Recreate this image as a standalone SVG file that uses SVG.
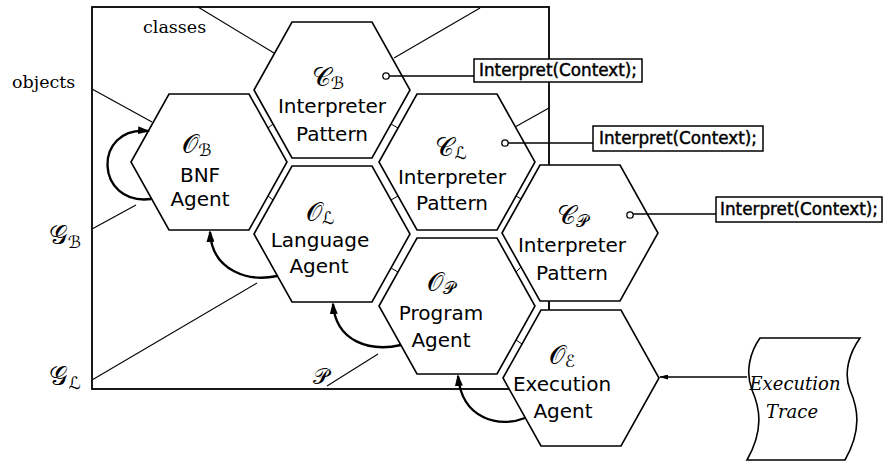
<svg xmlns="http://www.w3.org/2000/svg" width="886" height="470" viewBox="0 0 886 470">
  <style>
    .frame { fill: none; stroke: #000; stroke-width: 1.8; }
    .thin { fill: none; stroke: #000; stroke-width: 1.1; }
    .hex { fill: #fff; stroke: #000; stroke-width: 1.6; }
    .tick { stroke: #000; stroke-width: 1; }
    .arc { fill: none; stroke: #000; stroke-width: 2.4; marker-end: url(#head); }
    .lbl { font-family: "DejaVu Sans", sans-serif; font-size: 20px; text-anchor: middle; fill: #000; }
    .sym { font-family: "DejaVu Serif", "DejaVu Sans", serif; font-size: 26px; text-anchor: middle; fill: #000; }
    .sub { font-size: 17px; }
    .op { font-family: "DejaVu Sans", sans-serif; font-size: 16.8px; fill: #000; stroke: #000; stroke-width: 0.45; text-anchor: middle; }
    .box { fill: #fff; stroke: #000; stroke-width: 1.5; }
    .pin { fill: #fff; stroke: #000; stroke-width: 1.3; }
    .wire { fill: none; stroke: #000; stroke-width: 1.3; }
    .serif { font-family: "DejaVu Serif", serif; font-size: 17.5px; fill: #000; }
    .trace { font-family: "DejaVu Serif", serif; font-style: italic; font-size: 18px; text-anchor: middle; fill: #000; }
  </style>
  <defs>
    <polygon id="hexagon" points="-78,0 -40,-68 40,-68 78,0 40,68 -40,68"/>
    <marker id="head" markerUnits="userSpaceOnUse" markerWidth="12" markerHeight="8" refX="10" refY="4" orient="auto">
      <path d="M0,0 L12,4 L0,8 Z" fill="#000"/>
    </marker>
    <marker id="small" markerUnits="userSpaceOnUse" markerWidth="9" markerHeight="5" refX="8" refY="2.5" orient="auto">
      <path d="M0,0 L9,2.5 L0,5 Z" fill="#000"/>
    </marker>
  </defs>

  <!-- generator frame with the level lines -->
  <g id="frame">
    <rect class="frame" x="92" y="7" width="457" height="382"/>
    <line class="thin" x1="198" y1="7" x2="274" y2="53"/>
    <line class="thin" x1="92" y1="89" x2="152" y2="122"/>
    <line class="thin" x1="394" y1="58" x2="480" y2="8"/>
    <line class="thin" x1="515" y1="127" x2="549" y2="108"/>
    <line class="thin" x1="92" y1="229" x2="136" y2="205"/>
    <line class="thin" x1="92" y1="380" x2="257" y2="283"/>
    <line class="thin" x1="327" y1="386" x2="378" y2="354"/>
    <text class="serif" x="143" y="33">classes</text>
    <text class="serif" x="12" y="88">objects</text>
    <text class="sym" x="65" y="244">𝒢<tspan class="sub" dy="4">ℬ</tspan></text>
    <text class="sym" x="65" y="385">𝒢<tspan class="sub" dy="4">ℒ</tspan></text>
    <text class="sym" x="321" y="384" style="font-size:22px">𝒫</text>
  </g>

  <g id="C_B">
    <use href="#hexagon" class="hex" x="332" y="90"/>
    <text class="sym" x="328" y="86">𝒞<tspan class="sub" dy="3">ℬ</tspan></text>
    <text class="lbl" x="332" y="113">Interpreter</text>
    <text class="lbl" x="332" y="141">Pattern</text>
  </g>
  <g id="O_B">
    <use href="#hexagon" class="hex" x="209" y="162"/>
    <text class="sym" x="197" y="153">𝒪<tspan class="sub" dy="3">ℬ</tspan></text>
    <text class="lbl" x="200" y="182">BNF</text>
    <text class="lbl" x="200" y="206">Agent</text>
  </g>
  <g id="C_L">
    <use href="#hexagon" class="hex" x="457" y="162"/>
    <text class="sym" x="451" y="156">𝒞<tspan class="sub" dy="3">ℒ</tspan></text>
    <text class="lbl" x="452" y="184">Interpreter</text>
    <text class="lbl" x="452" y="210">Pattern</text>
  </g>
  <g id="O_L">
    <use href="#hexagon" class="hex" x="332" y="234"/>
    <text class="sym" x="320" y="221">𝒪<tspan class="sub" dy="3">ℒ</tspan></text>
    <text class="lbl" x="320" y="247">Language</text>
    <text class="lbl" x="319" y="273">Agent</text>
  </g>
  <g id="C_P">
    <use href="#hexagon" class="hex" x="580" y="233"/>
    <text class="sym" x="572" y="224">𝒞<tspan class="sub" dy="3">𝒫</tspan></text>
    <text class="lbl" x="572" y="252">Interpreter</text>
    <text class="lbl" x="572" y="280">Pattern</text>
  </g>
  <g id="O_P">
    <use href="#hexagon" class="hex" x="457" y="306"/>
    <text class="sym" x="441" y="291">𝒪<tspan class="sub" dy="3">𝒫</tspan></text>
    <text class="lbl" x="441" y="320">Program</text>
    <text class="lbl" x="441" y="347">Agent</text>
  </g>
  <g id="O_E">
    <use href="#hexagon" class="hex" x="581" y="378"/>
    <text class="sym" x="562" y="364">𝒪<tspan class="sub" dy="3">ℰ</tspan></text>
    <text class="lbl" x="562" y="391">Execution</text>
    <text class="lbl" x="563" y="418">Agent</text>
  </g>

  <g id="trace">
    <path class="hex" d="M760 338 L860 338 C850 352 843 372 850 390 C858 408 862 430 845 460 L747 460 C764 430 760 408 752 390 C745 372 750 352 760 338 Z"/>
    <text class="trace" x="795" y="390">Execution</text>
    <text class="trace" x="792" y="418">Trace</text>
  </g>

  <g id="op-boxes">
    <rect class="box" x="474" y="59" width="168" height="23"/>
    <text class="op" x="558" y="76">Interpret(Context);</text>
    <rect class="box" x="593" y="126" width="170" height="25"/>
    <text class="op" x="678" y="144">Interpret(Context);</text>
    <rect class="box" x="716" y="197" width="166" height="25"/>
    <text class="op" x="799" y="215">Interpret(Context);</text>
  </g>

  <g id="connectors">
    <!-- joints between neighbouring cells -->
    <line class="tick" x1="268" y1="128" x2="273" y2="124"/>
    <line class="tick" x1="391" y1="124" x2="398" y2="128"/>
    <line class="tick" x1="268" y1="196" x2="273" y2="200"/>
    <line class="tick" x1="391" y1="200" x2="398" y2="196"/>
    <line class="tick" x1="516" y1="196" x2="521" y2="199"/>
    <line class="tick" x1="391" y1="268" x2="398" y2="272"/>
    <line class="tick" x1="516" y1="272" x2="521" y2="267"/>
    <line class="tick" x1="516" y1="340" x2="522" y2="344"/>
    <line class="tick" x1="549" y1="301" x2="549" y2="310"/>

    <!-- operation pins -->
    <line class="wire" x1="389" y1="76" x2="474" y2="76"/>
    <circle class="pin" cx="386" cy="76" r="3.2"/>
    <line class="wire" x1="508" y1="143" x2="593" y2="143"/>
    <circle class="pin" cx="505" cy="143" r="3.2"/>
    <line class="wire" x1="633" y1="214" x2="716" y2="214"/>
    <circle class="pin" cx="630" cy="215" r="3.2"/>

    <!-- agent generation arrows -->
    <path class="arc" d="M151 199 C95 206 92 126 148 131"/>
    <path class="arc" d="M277 276 C250 282 212 272 210 232"/>
    <path class="arc" d="M401 345 C370 352 336 342 333 304"/>
    <path class="arc" d="M525 418 C500 428 462 420 458 376"/>

    <!-- trace input -->
    <line stroke="#000" stroke-width="1.3" x1="747" y1="377" x2="660" y2="377" marker-end="url(#small)"/>
  </g>
</svg>
